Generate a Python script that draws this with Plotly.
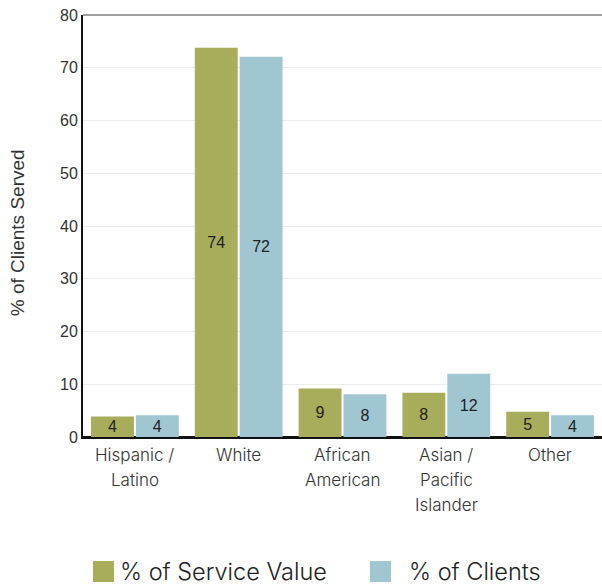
import plotly.graph_objects as go

# Client demographics: share of service value vs share of clients (percent)
categories = ["Hispanic /<br>Latino", "White", "African<br>American",
              "Asian /<br>Pacific<br>Islander", "Other"]
service_value = [3.9, 73.8, 9.2, 8.4, 4.8]
clients = [4.1, 72.1, 8.1, 12.0, 4.1]
series_names = ["% of Service Value", "% of Clients"]
colors = ["#a8ad5c", "#a0c6d1"]
y_ticks = [0, 10, 20, 30, 40, 50, 60, 70, 80]

LABEL_FONT = "Inter"
NUM_FONT = "Liberation Sans, Arial"

fig = go.Figure()
for name, vals, col in zip(series_names, [service_value, clients], colors):
    fig.add_trace(go.Bar(
        x=categories, y=vals, name=name, marker=dict(color=col, line=dict(width=0)),
        texttemplate="%{y:.0f}", textposition="inside", insidetextanchor="middle",
        textfont=dict(family=NUM_FONT, size=16, color="#222"),
        textangle=0, showlegend=False, hoverinfo="y",
    ))

# Category labels, one line at a time for wider line spacing
for cat in categories:
    for i, line in enumerate(cat.split("<br>")):
        fig.add_annotation(x=cat, xref="x", yref="paper", y=-0.043 - i * 0.0595,
                           yanchor="middle", showarrow=False, text=line,
                           font=dict(family=LABEL_FONT, size=17, color="#333", weight=300))

# Legend drawn as swatches + labels below the plot
legend_items = [(0.0193, 0.0674), (0.553, 0.624)]
for (sx, tx), name, col in zip(legend_items, series_names, colors):
    fig.add_shape(type="rect", xref="paper", yref="paper",
                  x0=sx, x1=sx + 0.0405, y0=-0.3436, y1=-0.2938,
                  fillcolor=col, line=dict(width=0))
    fig.add_annotation(xref="paper", yref="paper", x=tx, y=-0.3187,
                       xanchor="left", yanchor="middle", showarrow=False,
                       text=name, font=dict(family=LABEL_FONT, size=23.5, color="#222", weight=300))

# Y-axis title
fig.add_annotation(xref="paper", yref="paper", x=-0.127, y=0.483,
                   xanchor="center", yanchor="middle", showarrow=False, textangle=-90,
                   text="% of Clients Served",
                   font=dict(family=NUM_FONT, size=19, color="#333"))

# Top frame line
fig.add_shape(type="line", xref="paper", yref="paper", x0=0, x1=1, y0=1, y1=1,
              line=dict(color="#a0a0a0", width=2))

fig.update_layout(
    width=602, height=588,
    margin=dict(l=83, r=0, t=15, b=151),
    paper_bgcolor="white", plot_bgcolor="white",
    barmode="group", bargap=0.135, bargroupgap=0.045,
    uniformtext=dict(minsize=16, mode="show"),
    xaxis=dict(showline=True, linecolor="#111", linewidth=2, ticks="",
               showticklabels=False),
    yaxis=dict(range=[0, 80], tickvals=y_ticks, showgrid=True, gridcolor="#ececec",
               showline=True, linecolor="#111", linewidth=2, ticks="",
               zeroline=True, zerolinecolor="#111", zerolinewidth=2,
               tickfont=dict(family=NUM_FONT, size=16, color="#333")),
)

fig.write_html("out.html")
